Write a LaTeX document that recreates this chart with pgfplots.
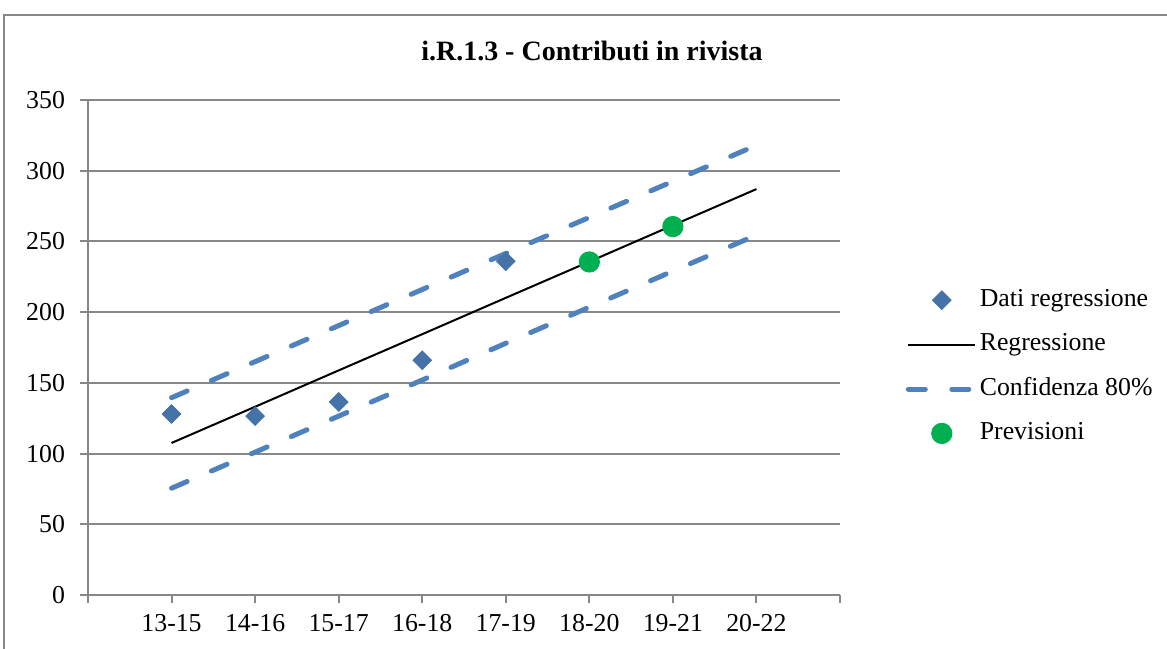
\documentclass[border=0pt]{standalone}
\usepackage{fontspec}
\setmainfont{Liberation Serif}
\usepackage{pgfplots}
\pgfplotsset{compat=1.18}

\definecolor{dotblue}{HTML}{4572A7}
\definecolor{bandblue}{HTML}{4F81BD}
\definecolor{prevgreen}{HTML}{00B050}
\definecolor{gridgray}{HTML}{878787}

\newcommand{\lblfont}{\fontsize{12.9}{15}\selectfont}

\begin{document}
\begin{tikzpicture}
	% page: 1167x648 px at 0.5pt per px, axis origin at px (88,595)
	\useasboundingbox (-44pt,-26.5pt) rectangle (539.5pt,297.5pt);
	\draw[gridgray, line width=1pt] (-42pt,-60pt) rectangle (600pt,290pt);
	\node[font=\bfseries\fontsize{14}{16}\selectfont] at (252pt,272pt) {i.R.1.3 - Contributi in rivista};
	\begin{axis}[
		at={(0pt,0pt)}, anchor=south west,
		scale only axis,
		width=376pt, height=247.5pt,
		xmin=-1, xmax=8,
		ymin=0, ymax=350,
		xtick={-1,0,...,8},
		xticklabels={,13-15,14-16,15-17,16-18,17-19,18-20,19-21,20-22,},
		ytick={0,50,...,350},
		ymajorgrids=true,
		grid style={gridgray, line width=1pt},
		axis x line*=bottom, axis y line*=left,
		axis line style={-, gridgray, line width=1pt},
		tick align=outside,
		major tick length=4pt,
		tick style={gridgray, line width=1pt},
		tick label style={font=\lblfont},
		yticklabel style={xshift=-4pt},
		xticklabel style={yshift=-2pt},
		/pgf/number format/assume math mode=true,
		clip=false,
		legend cell align=left,
		legend style={
				at={(1.087,0.461)}, anchor=west,
				draw=none, fill=none, inner sep=0pt,
				font=\lblfont,
				row sep=10.2pt,
				nodes={inner sep=0pt, text height=9pt, text depth=3pt},
				/tikz/every odd column/.append style={column sep=1pt},
			},
		legend image code/.code={
				\draw[mark repeat=2, mark phase=2, #1] plot coordinates {(0pt,0pt) (16.75pt,0pt) (33.5pt,0pt)};
			},
		]
		% Dati regressione
		\addplot[only marks, mark=square*, mark size=3.3pt,
			mark options={rotate=45, draw=dotblue, fill=dotblue}] coordinates {
				(0,128) (1,126.5) (2,136.5) (3,166) (4,236)
			};
		\addlegendentry{Dati regressione}
		% Regressione
		\addplot[black, line width=1pt, mark=none] coordinates {
				(0,107.5) (1,133.1) (2,158.8) (3,184.4) (4,210.1) (5,235.7) (6,261.4) (7,287.0)
			};
		\addlegendentry{Regressione}
		% Confidenza 80% (upper / lower)
		\addplot[bandblue, line width=2.5pt, line cap=round, dash pattern=on 8.5pt off 13.25pt, mark=none] coordinates {
				(0,139.5) (1,165) (2,190.5) (3,216) (4,241.5) (5,267) (6,292.5) (7,318)
			};
		\addlegendentry{Confidenza 80\%}
		\addplot[bandblue, line width=2.5pt, line cap=round, dash pattern=on 8.5pt off 13.25pt, mark=none, forget plot] coordinates {
				(0,75.5) (1,101) (2,126.5) (3,152) (4,178) (5,203.5) (6,229) (7,254.5)
			};
		% Previsioni
		\addplot[only marks, mark=*, mark size=5.1pt,
			mark options={draw=prevgreen, fill=prevgreen}] coordinates {
				(5,235.5) (6,260.5)
			};
		\addlegendentry{Previsioni}
	\end{axis}
\end{tikzpicture}
\end{document}
